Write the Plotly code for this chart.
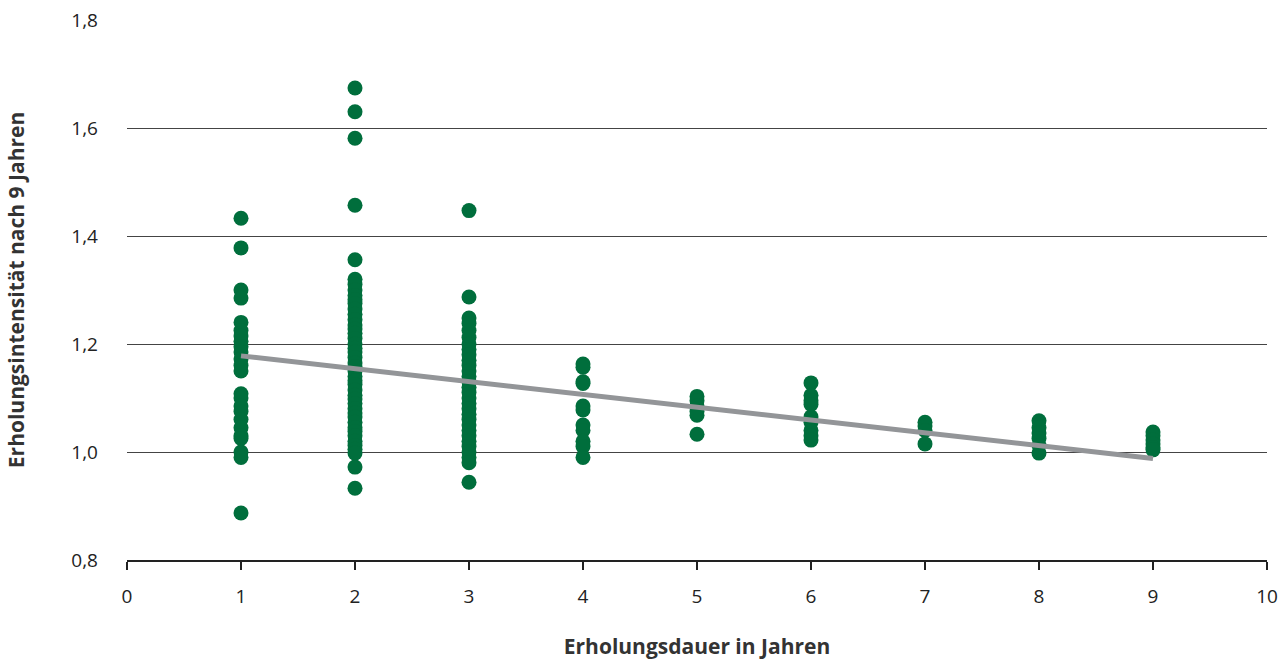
import plotly.graph_objects as go

# Erholungsdauer (Jahre) -> Erholungsintensität nach 9 Jahren
vals_1 = [1.433, 1.378, 1.300, 1.285, 1.240, 1.225, 1.215, 1.205, 1.195, 1.185,
          1.172, 1.160, 1.150, 1.108, 1.100, 1.085, 1.075, 1.060, 1.045, 1.030,
          1.025, 1.000, 0.990, 0.887]
vals_2 = [1.674, 1.630, 1.581, 1.457, 1.356, 1.320, 1.310, 1.300, 1.290, 1.282,
          1.275, 1.265, 1.255, 1.245, 1.235, 1.228, 1.220, 1.210, 1.200, 1.192,
          1.185, 1.175, 1.165, 1.158, 1.150, 1.140, 1.132, 1.125, 1.115, 1.105,
          1.098, 1.090, 1.080, 1.072, 1.065, 1.055, 1.045, 1.038, 1.030, 1.020,
          1.012, 1.005, 0.998, 0.972, 0.933]
vals_3 = [1.447, 1.287, 1.248, 1.238, 1.225, 1.212, 1.200, 1.190, 1.180, 1.170,
          1.160, 1.150, 1.140, 1.130, 1.120, 1.110, 1.100, 1.090, 1.080, 1.070,
          1.060, 1.050, 1.040, 1.030, 1.020, 1.010, 1.000, 0.990, 0.980, 0.944]
vals_4 = [1.163, 1.157, 1.130, 1.127, 1.085, 1.078, 1.050, 1.040, 1.020, 1.010, 0.990]
vals_5 = [1.103, 1.095, 1.085, 1.075, 1.068, 1.033]
vals_6 = [1.128, 1.105, 1.095, 1.088, 1.065, 1.055, 1.040, 1.030, 1.022]
vals_7 = [1.055, 1.048, 1.040, 1.015]
vals_8 = [1.058, 1.045, 1.035, 1.025, 1.012, 0.998]
vals_9 = [1.037, 1.030, 1.022, 1.015, 1.008, 1.004]

groups = [1, 2, 3, 4, 5, 6, 7, 8, 9]
group_values = [vals_1, vals_2, vals_3, vals_4, vals_5, vals_6, vals_7, vals_8, vals_9]

trend_x = [1, 9]
trend_y = [1.178, 0.988]

x_ticks = [0, 1, 2, 3, 4, 5, 6, 7, 8, 9, 10]
y_ticks = [0.8, 1.0, 1.2, 1.4, 1.6, 1.8]

xs, ys = [], []
for g, vals in zip(groups, group_values):
    xs += [g] * len(vals)
    ys += vals

FONT = "Open Sans, Noto Sans, sans-serif"
GREEN = "#006e3c"
TEXT = "#222222"

fig = go.Figure()
fig.add_trace(go.Scatter(
    x=xs, y=ys, mode="markers",
    marker=dict(size=15, color=GREEN, line=dict(width=0)),
    showlegend=False,
))
fig.add_trace(go.Scatter(
    x=trend_x, y=trend_y, mode="lines",
    line=dict(color="#939598", width=5),
    showlegend=False,
))

fig.update_layout(
    width=1286, height=660,
    margin=dict(l=127, r=19, t=20, b=100, autoexpand=False),
    plot_bgcolor="white", paper_bgcolor="white",
    separators=",.",
    font=dict(family=FONT, size=19, color=TEXT),
    xaxis=dict(
        range=[0, 10], tickvals=x_ticks, showgrid=False, zeroline=False,
        showline=True, linecolor=TEXT, linewidth=2,
        ticks="outside", ticklen=8, tickcolor=TEXT, tickwidth=1.5,
        ticklabelstandoff=10,
        tickfont=dict(size=19, color=TEXT),
        title=dict(text="<b>Erholungsdauer in Jahren</b>", font=dict(size=21, color="#333333"), standoff=34),
        automargin=False,
    ),
    yaxis=dict(
        range=[0.8, 1.8], tickvals=y_ticks, tickformat=".1f",
        showgrid=True, gridcolor="#444444", gridwidth=1, zeroline=False,
        showline=False, ticks="", ticklabelstandoff=28,
        tickfont=dict(size=19, color=TEXT),
        title=dict(text="<b>Erholungsintensität nach 9 Jahren</b>", font=dict(size=21, color="#333333"), standoff=40),
        automargin=False,
    ),
)

fig.write_html("out.html", config={"displayModeBar": False},
               post_script="document.body.style.margin='0px';")
